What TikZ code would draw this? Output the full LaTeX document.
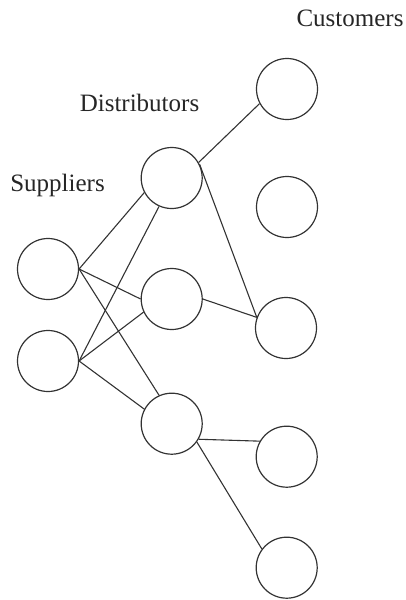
\documentclass[tikz,border=0pt]{standalone}
\usepackage{fontspec}
\setmainfont{Liberation Serif}
\usepackage{tikz}

\begin{document}
\begin{tikzpicture}[x=0.5pt,y=-0.5pt,
	site/.style={circle,draw=black!80,line width=0.6pt,minimum size=30.5pt,inner sep=0pt},
	tier/.style={font=\fontsize{12.5}{14}\selectfont,text=black!85,inner sep=0pt},
	link/.style={draw=black!80,line width=0.55pt}]

\useasboundingbox (0,0) rectangle (406,600);

\node[tier] (lsup) at (57.5,185) {Suppliers};
\node[tier] (ldis) at (139.5,103) {Distributors};
\node[tier] (lcus) at (350,18) {Customers};

\node[site] (s1) at (48,269) {};
\node[site] (s2) at (48,361) {};

\node[site] (d1) at (171.7,178) {};
\node[site] (d2) at (171.7,299) {};
\node[site] (d3) at (171.7,423.7) {};

\node[site] (c1) at (287,89) {};
\node[site] (c2) at (287,207) {};
\node[site] (c3) at (286,328) {};
\node[site] (c4) at (286.7,456.7) {};
\node[site] (c5) at (286.7,567.7) {};

\draw[link] (s1.0)--(d1.208);
\draw[link] (s1.0)--(d2.180);
\draw[link] (s1.0)--(d3.114);

\draw[link] (s2.0)--(d1.246);
\draw[link] (s2.0)--(d2.205);
\draw[link] (s2.0)--(d3.152);

\draw[link] (d1.30)--(c1.208);
\draw[link] (d1.26)--(c3.160);
\draw[link] (c3.160)--(d2.0);

\draw[link] (d3.330)--(c4.150);
\draw[link] (d3.324)--(c5.143);

\end{tikzpicture}
\end{document}
